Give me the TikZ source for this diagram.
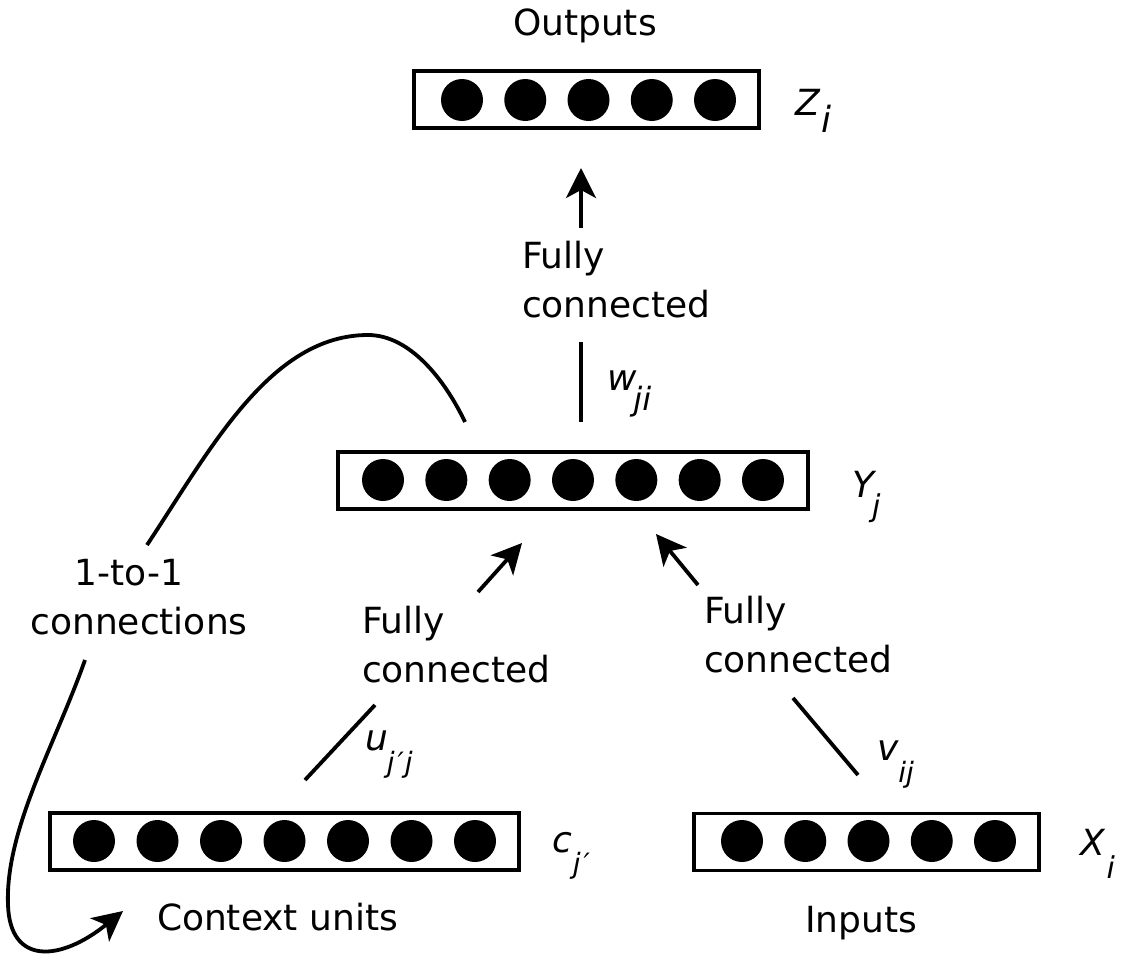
\documentclass[tikz,border=0pt]{standalone}
\usepackage{fontspec}
\setmainfont{DejaVu Sans}
\usetikzlibrary{arrows.meta}
\newcommand\lowsub[3]{\raisebox{-#1}{\fontsize{#2}{#2}\selectfont #3}}
\begin{document}
\begin{tikzpicture}[x=1pt,y=-1pt,
  every node/.style={inner sep=0pt, outer sep=0pt},
  txt/.style={font=\fontsize{36}{49}\selectfont, align=left, anchor=base west},
  sym/.style={font=\fontsize{36}{44}\selectfont\itshape, anchor=base west},
  layer/.style={draw, rectangle, line width=3.6pt, minimum height=57pt},
  unit/.style={circle, fill=black, minimum size=42pt},
  conn/.style={line width=3.8pt},
  arr/.style={conn, -{Stealth[length=30pt,width=30pt,inset=8pt]}}
]
\useasboundingbox (0,0) rectangle (1129,961);

% layers
\node[layer, minimum width=345pt] (Z) at (586.5,99.5) {};
\foreach \k in {0,...,4} \node[unit] (z\k) at ({462+63.25*\k},100) {};
\node[layer, minimum width=470pt] (Y) at (573,480.5) {};
\foreach \k in {0,...,6} \node[unit] (y\k) at ({383+63.33*\k},480) {};
\node[layer, minimum width=469pt] (C) at (284.5,841.5) {};
\foreach \k in {0,...,6} \node[unit] (c\k) at ({94+63.5*\k},841) {};
\node[layer, minimum width=345pt] (X) at (866.5,842) {};
\foreach \k in {0,...,4} \node[unit] (x\k) at ({742+63.25*\k},841) {};

% texts (base anchor = baseline of the last line)
\node[txt] (out) at (513,35) {Outputs};
\node[txt] (ctx) at (157,930) {Context units};
\node[txt] (inp) at (805,932) {Inputs};
\node[txt] (fc1) at (522,317) {Fully\\connected};
\node[txt] (fc2) at (362,682) {Fully\\connected};
\node[txt] (fc3) at (704,672) {Fully\\connected};
\node[font=\fontsize{36}{49}\selectfont, align=center, anchor=base] (one) at (139,634) {1-to-1\rule{20pt}{0pt}\\connections};

% symbols
\node[sym] (zl) at (795,115) {Z\kern2pt\lowsub{17pt}{36}{i}};
\node[sym] (yl) at (852,497) {Y\kern-2pt\lowsub{19pt}{30}{j}};
\node[sym] (cl) at (552,852) {c\kern1pt\lowsub{21pt}{28}{j\kern3pt′}};
\node[sym] (xl) at (1080,855) {X\kern2pt\lowsub{23pt}{30}{i}};
\node[sym] (ul) at (365,750) {u\kern-1pt\lowsub{22pt}{28}{j\kern3pt′\kern1pt j}};
\node[sym] (vl) at (877,760) {v\kern0pt\lowsub{22pt}{28}{ij}};
\node[sym] (wl) at (607,390) {w\kern-3pt\lowsub{20pt}{32}{ji}};

% connector end points
\coordinate (upT) at (581,228);  \coordinate (upH) at (581,168);
\coordinate (wA) at (581,342);   \coordinate (wB) at (581,422);
\coordinate (lT) at (478,592);   \coordinate (lH) at (522,543);
\coordinate (rT) at (698,585);   \coordinate (rH) at (656,534);
\coordinate (uA) at (305,780);   \coordinate (uB) at (375,705);
\coordinate (vA) at (858,775);   \coordinate (vB) at (793,698);
\coordinate (fbS) at (465,422);  \coordinate (fbM) at (147,545);
\coordinate (fbN) at (85,660);   \coordinate (fbE) at (123,911);

\draw[arr] (upT) -- (upH);
\draw[conn] (wA) -- (wB);
\draw[arr] (lT) -- (lH);
\draw[arr] (rT) -- (rH);
\draw[conn] (uA) -- (uB);
\draw[conn] (vA) -- (vB);
\draw[conn] (fbS) .. controls (445,380) and (410,335) .. (368,335)
                 .. controls (270,335) and (210,450) .. (fbM);
\draw[arr] (fbN) .. controls (55,745) and (5,830) .. (8,905)
                 .. controls (10,965) and (60,962) .. (fbE);
\end{tikzpicture}
\end{document}
